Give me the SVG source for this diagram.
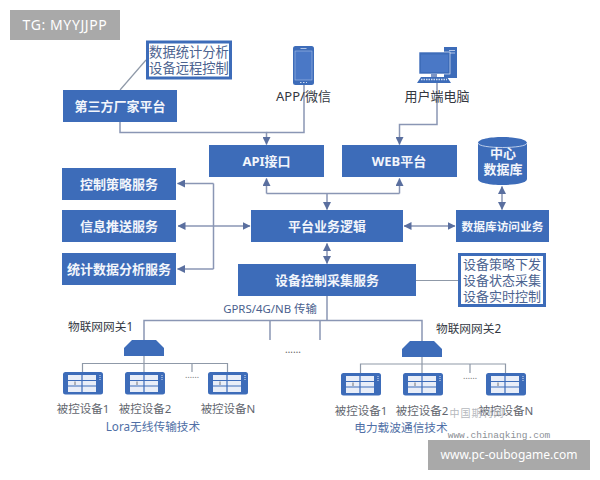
<svg xmlns="http://www.w3.org/2000/svg" width="600" height="480" viewBox="0 0 600 480">
<style>
text{font-family:"Noto Sans","Noto Sans CJK SC",sans-serif;text-anchor:middle}
.b{fill:#3d6cb9}
.w{fill:#f2f5fb;font-weight:700;font-size:13px}
.l{fill:none;stroke:#8a96b4;stroke-width:1.5}
.g{fill:none;stroke:#8f99a8;stroke-width:1.2}
.a{marker-end:url(#ah)}
.d{marker-start:url(#ah);marker-end:url(#ah)}
.k{fill:#33373f;font-size:13px}
.s{fill:#62666e;font-size:11.5px}
.t{fill:#4f6fa6;font-size:11.7px}
.o{fill:none;stroke:#3d6cb9;stroke-width:3}
.n{fill:#4a5f8e;font-size:11.4px}
.m{fill:#4c6390;font-size:13px}
.q{fill:#33373f;font-size:11.7px}
</style>
<defs>
<marker id="ah" viewBox="0 0 8 8" refX="7.500" refY="4" markerWidth="8" markerHeight="8" markerUnits="userSpaceOnUse" orient="auto-start-reverse"><path d="M0 0L8 4L0 8Z" fill="#5a6f9f"/></marker>
<g id="dev">
<rect x="0" y="0" width="40" height="22.500" rx="2.500" fill="#3d6cb9"/>
<rect x="5" y="3" width="28" height="17" fill="#e9eef8"/>
<path d="M5 8.500H33M5 14H33M19 3V20" stroke="#3d6cb9" stroke-width="1.200" fill="none"/>
<path d="M12 9.500V13" stroke="#555" stroke-width=".8"/>
<path d="M37 3V8" stroke="#dfe6f4" stroke-width="1" stroke-dasharray="1 1"/>
</g>
<g id="gw"><path d="M0 8L8 0H32L40 8V16H0Z" fill="#3d6cb9"/></g>
</defs>
<rect width="600" height="480" fill="#fff"/>

<g id="connectors">
<path class="g" d="M120 90L146 60"/>
<path class="l a" d="M120 122V132.500H266.500V144.500"/>
<path class="l" d="M304 84V132.500H266.500"/>
<path class="l a" d="M437 80V124.500H399.500V144.500"/>
<path class="l a" d="M266.500 193.500V178.500"/>
<path class="l a" d="M399.500 193.500V178.500"/>
<path class="l" d="M266.500 193.500H399.500"/>
<path class="l a" d="M327 193.500V209.500"/>
<path class="l" d="M213.500 183.500V269"/>
<path class="l a" d="M213.500 183.500H177.500"/>
<path class="l a" d="M213.500 269H177.500"/>
<path class="l d" d="M178 226H250"/>
<path class="l d" d="M404 226H455"/>
<path class="l d" d="M502 186.500V209.500"/>
<path class="l d" d="M327 243.500V263.500"/>
<path class="g" d="M416 280.500H458"/>
<path class="l" d="M327 296V320.500M144 340V320.500H422V341M270 320.500V340M320 320.500V340"/>
<path class="g" d="M144 356V372M82.500 372V363.500H227.500V372M192 363.500V372"/>
<path class="g" d="M422 357V373M360.500 373V364H505.500V373M470 364V373"/>
</g>

<g id="tag-top"><rect x="10" y="10" width="110" height="30" fill="#a9a9a9"/><text x="65" y="30" font-size="14" fill="#fff" style="letter-spacing:.6px">TG: MYYJJPP</text></g>

<g id="note-stats"><rect class="o" x="147.500" y="42" width="83" height="36" fill="#fff"/><text class="m" style="font-size:13.300px"><tspan x="189" y="56.500">数据统计分析</tspan><tspan x="189" y="72.500">设备远程控制</tspan></text></g>
<g id="third-party"><rect class="b" x="63" y="90" width="114" height="32"/><text class="w" x="120" y="111">第三方厂家平台</text></g>

<g id="app">
<rect x="293" y="46" width="21" height="39" rx="2.500" fill="#3d6cb9"/>
<rect x="295" y="51" width="17" height="29" fill="#4a78c6" stroke="#a9c0e8" stroke-width=".6"/>
<path d="M300.500 48.500H306.500" stroke="#cfdcf2" stroke-width=".8"/>
<path d="M300 82.500H307" stroke="#cfdcf2" stroke-width="1.200" stroke-dasharray="1.500 1.500"/>
<text class="k" x="303.500" y="101">APP/微信</text>
</g>
<g id="pc">
<rect x="444" y="47" width="13" height="31" fill="#3d6cb9"/>
<path d="M449 50.500H455M449 53H455" stroke="#cfdcf2" stroke-width=".8"/>
<rect x="419" y="52" width="31" height="22" fill="#3d6cb9" stroke="#fff" stroke-width=".6"/>
<rect x="421" y="54.500" width="27" height="17.500" fill="#4a78c6"/>
<rect x="431" y="74" width="6" height="3" fill="#7d95c4"/>
<path d="M421 77H447L451 83H417Z" fill="#3d6cb9"/>
<path d="M421 79.500H447" stroke="#cfdcf2" stroke-width="1.500" stroke-dasharray="1.500 1"/>
<text class="k" x="437" y="101">用户端电脑</text>
</g>

<g id="api"><rect class="b" x="209" y="145" width="115" height="32"/><text class="w" x="266.500" y="166">API接口</text></g>
<g id="web"><rect class="b" x="342" y="145" width="115" height="32"/><text class="w" x="399" y="166">WEB平台</text></g>
<g id="db">
<path class="b" d="M478 143C478 135 527 135 527 143V179C527 187 478 187 478 179Z"/>
<path d="M478 143C478 149 527 149 527 143" fill="none" stroke="#dbe4f5" stroke-width=".8"/>
<text class="w"><tspan x="503" y="158">中心</tspan><tspan x="503" y="174">数据库</tspan></text>
</g>
<g id="policy"><rect class="b" x="62" y="168" width="114" height="32"/><text class="w" x="119" y="189">控制策略服务</text></g>
<g id="push"><rect class="b" x="62" y="210" width="114" height="32"/><text class="w" x="119" y="231">信息推送服务</text></g>
<g id="stats"><rect class="b" x="62" y="253" width="114" height="32"/><text class="w" x="119" y="274">统计数据分析服务</text></g>
<g id="logic"><rect class="b" x="251" y="210" width="152" height="32"/><text class="w" x="327" y="231">平台业务逻辑</text></g>
<g id="dbaccess"><rect class="b" x="456" y="210" width="93" height="32"/><text class="w" x="502.500" y="231" style="font-size:11.700px">数据库访问业务</text></g>
<g id="collect"><rect class="b" x="238" y="264" width="178" height="32"/><text class="w" x="327" y="285">设备控制采集服务</text></g>
<g id="note-device"><rect class="o" x="459.500" y="254.500" width="85" height="51" fill="#fff"/><text class="m"><tspan x="502" y="269">设备策略下发</tspan><tspan x="502" y="285">设备状态采集</tspan><tspan x="502" y="301">设备实时控制</tspan></text></g>
<text class="n" x="270" y="313">GPRS/4G/NB 传输</text>
<text x="293" y="353" font-size="10" fill="#666">……</text>

<g id="gateway1"><use href="#gw" x="124" y="340"/><text class="q" x="100.500" y="331">物联网网关1</text></g>
<g id="gateway2"><use href="#gw" x="402" y="341"/><text class="q" x="468.500" y="333">物联网网关2</text></g>

<g id="dev-a1"><use href="#dev" x="63" y="372"/><text class="s" x="83" y="413">被控设备1</text></g>
<g id="dev-a2"><use href="#dev" x="125" y="372"/><text class="s" x="145" y="413">被控设备2</text></g>
<text x="192" y="378" font-size="9" fill="#777">……</text>
<g id="dev-an"><use href="#dev" x="208" y="372"/><text class="s" x="228" y="413">被控设备N</text></g>
<g id="dev-b1"><use href="#dev" x="341" y="373"/><text class="s" x="361" y="415">被控设备1</text></g>
<g id="dev-b2"><use href="#dev" x="403" y="373"/><text class="s" x="422" y="415">被控设备2</text></g>
<text x="470" y="379" font-size="9" fill="#777">……</text>
<g id="dev-bn"><use href="#dev" x="486" y="373"/><text class="s" x="506" y="415">被控设备N</text></g>

<text class="t" x="153" y="431">Lora无线传输技术</text>
<text class="t" x="401" y="432">电力载波通信技术</text>

<text x="477" y="417" font-size="10" fill="#b5b8bd" style="letter-spacing:1px">中国期刊网</text>
<text x="499" y="438" font-size="9.500" fill="#8c9096" style='font-family:"Liberation Mono",monospace'>www.chinaqking.com</text>
<g id="tag-bottom"><rect x="428" y="440" width="162" height="30" fill="#a9a9a9"/><text x="509" y="458.500" font-size="12" fill="#fff">www.pc-oubogame.com</text></g>
</svg>
